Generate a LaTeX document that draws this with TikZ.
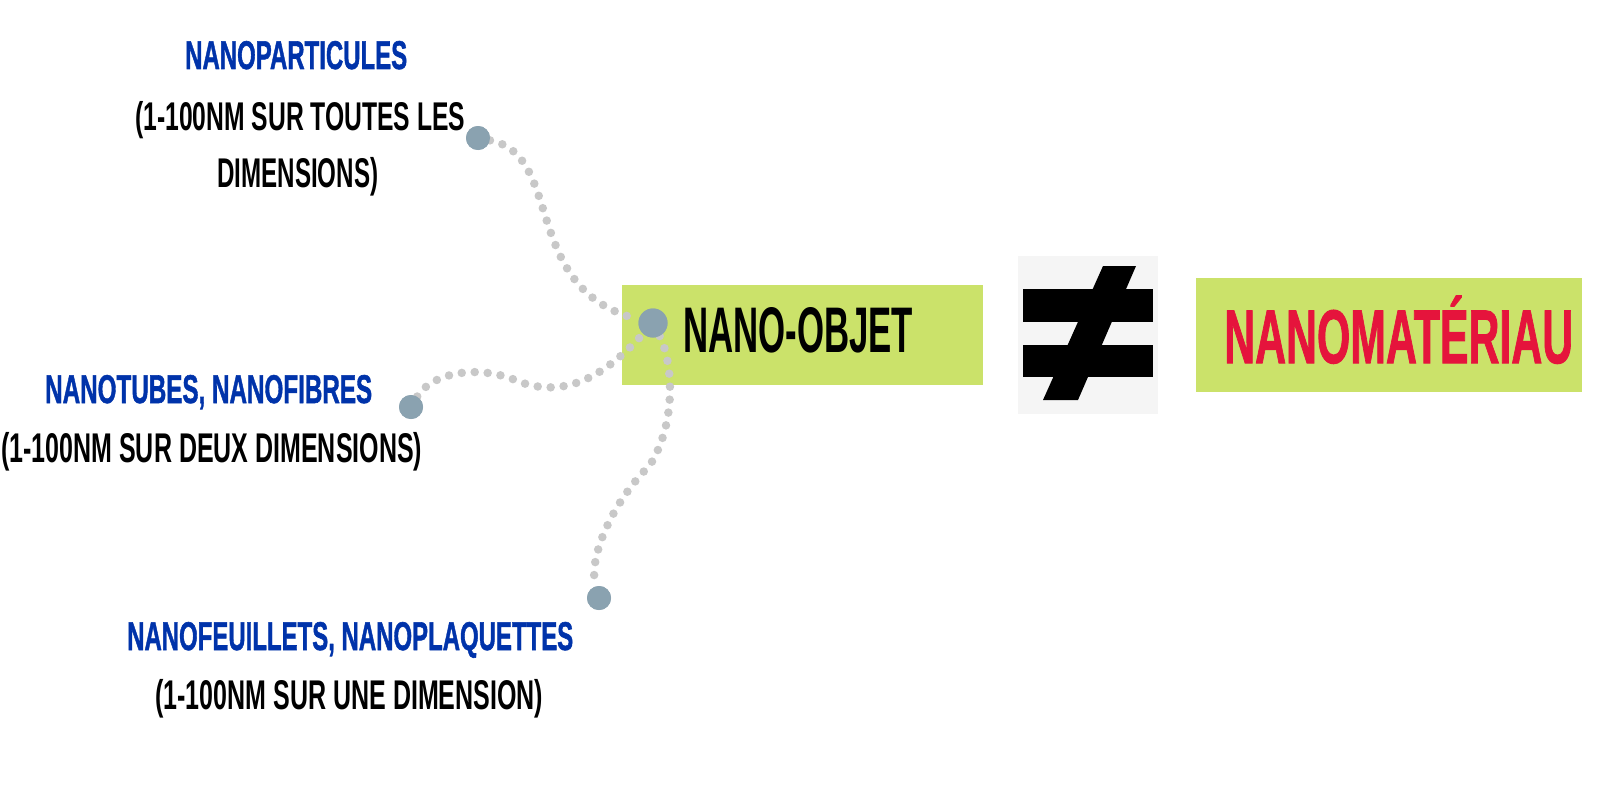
\documentclass[tikz,border=0pt]{standalone}
\usepackage{fontspec}
\usepackage{graphicx}
\setmainfont{Liberation Sans}
\newfontfamily\heavyfont{Liberation Sans}[BoldFeatures={FakeBold=1.5}]
\definecolor{boxgreen}{HTML}{CBE26A}
\definecolor{headblue}{HTML}{0033AA}
\definecolor{titlered}{HTML}{E5143C}
\definecolor{dotblue}{HTML}{8AA2B0}
\definecolor{dotgray}{HTML}{C8C8C8}
\definecolor{neqbg}{HTML}{F5F5F5}
\newcommand{\fitbox}[3]{\resizebox{#1pt}{#2pt}{#3}}
\begin{document}
\begin{tikzpicture}[x=1pt,y=-1pt,
  greenbox/.style={fill=boxgreen, draw=none, inner sep=0pt},
  txt/.style={inner sep=0pt, anchor=base west},
  head/.style={txt, text=headblue, font=\heavyfont\bfseries},
  body/.style={txt, text=black, font=\bfseries},
  enddot/.style={circle, fill=dotblue, draw=none, minimum size=24pt, inner sep=0pt},
  hubdot/.style={circle, fill=dotblue, draw=none, minimum size=29pt, inner sep=0pt},
  dotline/.style={draw=dotgray, line width=8.5pt, line cap=round, dash pattern=on 0pt off 13pt}
]
\useasboundingbox (0,0) rectangle (1600,800);
\fill[white] (0,0) rectangle (1600,800);

% boxes
\node[greenbox, minimum width=361pt, minimum height=100pt] (objbox) at (802.5,335) {};
\node[greenbox, minimum width=386pt, minimum height=114pt] (matbox) at (1389,335) {};
\node[fill=neqbg, draw=none, inner sep=0pt, minimum width=140pt, minimum height=158pt] (neqbox) at (1088,335) {};

% not-equal sign
\fill[black] (1023,289) rectangle (1153,322);
\fill[black] (1023,345) rectangle (1153,377);
\fill[black] (1103,266) -- (1136,266) -- (1078,400) -- (1043,400) -- cycle;

% dots
\node[hubdot] (hub) at (653,323) {};
\node[enddot] (d1) at (478,138) {};
\node[enddot] (d2) at (411,407) {};
\node[enddot] (d3) at (599,598) {};
\coordinate (m2) at (520,382);
\coordinate (m3) at (650,465);

% dotted connectors
\draw[dotline] (d1) .. controls (565,155) and (520,290) .. (hub);
\draw[dotline] (d2) .. controls (430,375) and (475,362) .. (m2) .. controls (570,400) and (610,370) .. (hub);
\draw[dotline] (hub) .. controls (672,360) and (678,420) .. (m3) .. controls (610,505) and (588,560) .. (d3);

% dots on top of the connectors
\fill[dotblue] (hub.center) circle (14.5);
\fill[dotblue] (d1.center) circle (12);
\fill[dotblue] (d2.center) circle (12);
\fill[dotblue] (d3.center) circle (12);

% texts
\node[head] (t1a) at (185,69) {\fitbox{222}{28}{NANOPARTICULES}};
\node[body] (t1b) at (135,130) {\fitbox{330}{28}{\smash{(}1-100NM SUR TOUTES LES}};
\node[body] (t1c) at (217,187) {\fitbox{161}{29}{DIMENSIONS\smash{)}}};

\node[head] (t2a) at (45,403) {\fitbox{327}{28}{NANOTUBES\smash{,} NANOFIBRES}};
\node[body] (t2b) at (1,462) {\fitbox{421}{29}{\smash{(}1-100NM SUR DEUX DIMENSIONS\smash{)}}};

\node[head] (t3a) at (127,650) {\fitbox{446}{28}{NANOFEUILLETS\smash{,} NANOPLAQUETTES}};
\node[body] (t3b) at (155,709) {\fitbox{388}{29}{\smash{(}1-100NM SUR UNE DIMENSION\smash{)}}};

\node[txt, text=black, font=\bfseries] (objtxt) at (683,352) {\fitbox{230}{45}{NANO-OBJET}};
\node[txt, text=titlered, font=\heavyfont\bfseries] (mattxt) at (1224,363) {\fitbox{349}{53}{NANOMAT\smash{É}RIAU}};
\end{tikzpicture}
\end{document}
